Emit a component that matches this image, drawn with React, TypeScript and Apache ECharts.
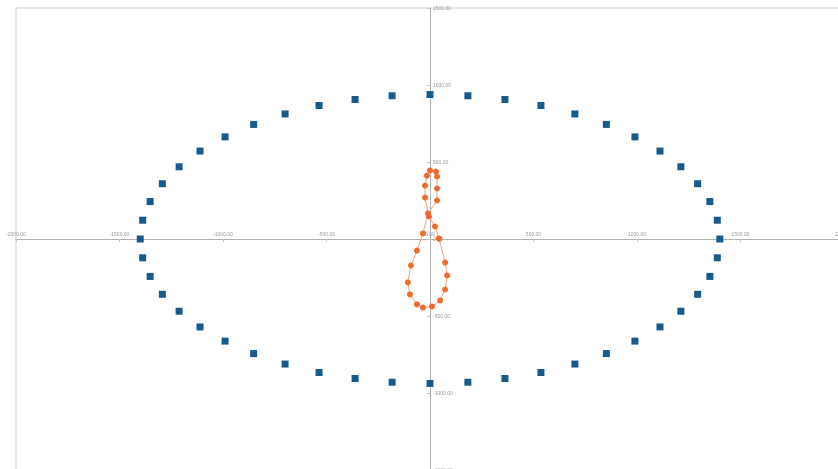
import React, { useEffect, useRef } from "react";
import * as echarts from "echarts";

const ellipseX = [1400, 1388, 1352, 1293, 1212, 1111, 990, 852, 700, 536, 362, 183, 0,
  -183, -362, -536, -700, -852, -990, -1111, -1212, -1293, -1352, -1388, -1400,
  -1388, -1352, -1293, -1212, -1111, -990, -852, -700, -536, -362, -183, 0,
  183, 362, 536, 700, 852, 990, 1111, 1212, 1293, 1352, 1388];
const ellipseY = [0, 122, 243, 359, 469, 571, 663, 744, 812, 867, 906, 930, 938,
  930, 906, 867, 812, 744, 663, 571, 469, 359, 243, 122, 0,
  -122, -243, -359, -469, -571, -663, -744, -812, -867, -906, -930, -938,
  -930, -906, -867, -812, -744, -663, -571, -469, -359, -243, -122];

const curveX = [44, 24, -5, -24, -24, -15, 0, 29, 34, 34, 34, -10, -34, -63, -92, -107, -97, -63, -34, 10, 49, 73, 83, 73, 44];
const curveY = [3, 81, 146, 269, 347, 412, 445, 438, 406, 328, 250, 166, 36, -75, -172, -282, -360, -425, -445, -438, -399, -328, -237, -153, 3];

const W = 838;
const H = 469;
const GRID_LEFT = 16;
const GRID_RIGHT = -6;
const GRID_TOP = 8;
const GRID_BOTTOM = -1;

export default function App() {
  const ref = useRef<HTMLDivElement>(null);
  useEffect(() => {
    if (!ref.current) return;
    const chart = echarts.init(ref.current, null, { renderer: "svg" });
    const gw = W - GRID_LEFT - GRID_RIGHT;
    const gh = H - GRID_TOP - GRID_BOTTOM;
    chart.setOption({
      animation: false,
      grid: {
        left: GRID_LEFT, right: GRID_RIGHT, top: GRID_TOP, bottom: GRID_BOTTOM,
        show: true, borderColor: "#d0d0d0", borderWidth: 1, containLabel: false,
        outerBoundsMode: "none",
      },
      xAxis: {
        type: "value", min: -2000, max: 2000, interval: 500,
        position: "bottom",
        offset: -gh / 2,
        axisLine: { onZero: false, lineStyle: { color: "#b0b0b0" } },
        axisTick: { show: true, inside: false, length: 3, lineStyle: { color: "#c8c8c8" } },
        axisLabel: { inside: true, fontSize: 5, color: "#999", formatter: (v: number) => v.toFixed(2), margin: 3 },
        splitLine: { show: false },
      },
      yAxis: {
        type: "value", min: -1500, max: 1500, interval: 500,
        position: "left",
        offset: -gw / 2,
        axisLine: { onZero: false, lineStyle: { color: "#b0b0b0" } },
        axisTick: { show: true, inside: false, length: 3, lineStyle: { color: "#c8c8c8" } },
        axisLabel: { inside: true, fontSize: 5, color: "#999", formatter: (v: number) => v.toFixed(2), margin: 3 },
        splitLine: { show: false },
      },
      series: [
        {
          type: "scatter",
          symbol: "rect",
          symbolSize: 7,
          itemStyle: { color: "#175a8c", opacity: 1 },
          data: ellipseX.map((x, i) => [x, ellipseY[i]]),
        },
        {
          type: "line",
          symbol: "circle",
          symbolSize: 6,
          showSymbol: true,
          lineStyle: { color: "#f3a27a", width: 1 },
          itemStyle: { color: "#ee6a2d" },
          data: curveX.map((x, i) => [x, curveY[i]]),
        },
      ],
    });
    return () => chart.dispose();
  }, []);
  return <div ref={ref} style={{ position: "fixed", left: 0, top: 0, width: W, height: H }} />;
}
